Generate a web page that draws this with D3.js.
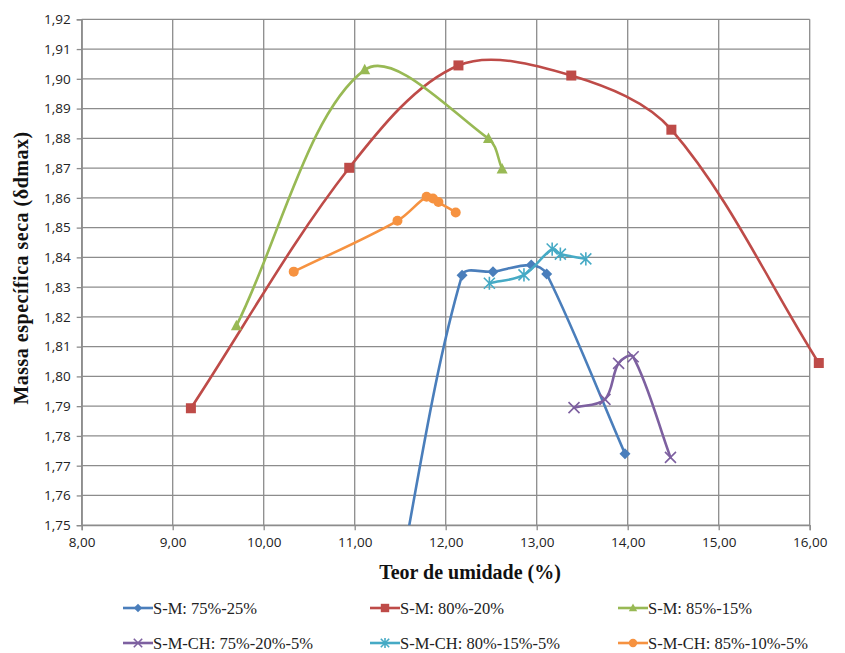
<!DOCTYPE html>
<html>
<head>
<meta charset="utf-8">
<script src="https://cdn.jsdelivr.net/npm/d3@7"></script>
<style>
  html, body { margin: 0; padding: 0; background: #fff; }
  svg { display: block; }
</style>
</head>
<body>
<svg id="chart" width="845" height="653"></svg>
<script>
// ---- Data ----
const xTicks = [8, 9, 10, 11, 12, 13, 14, 15, 16];
const yTicks = [1.75, 1.76, 1.77, 1.78, 1.79, 1.80, 1.81, 1.82, 1.83, 1.84, 1.85, 1.86, 1.87, 1.88, 1.89, 1.90, 1.91, 1.92];

const seriesNames = ["S-M: 75%-25%", "S-M: 80%-20%", "S-M: 85%-15%",
                     "S-M-CH: 75%-20%-5%", "S-M-CH: 80%-15%-5%", "S-M-CH: 85%-10%-5%"];

const sm75x = [11.40, 12.18, 12.52, 12.94, 13.11, 13.97];
const sm75y = [1.7177, 1.834, 1.8352, 1.8374, 1.8344, 1.774];

const sm80x = [9.20, 10.94, 12.14, 13.38, 14.48, 16.10];
const sm80y = [1.7893, 1.8701, 1.9045, 1.9011, 1.8829, 1.8045];

const sm85x = [9.70, 11.11, 12.47, 12.62];
const sm85y = [1.8170, 1.9030, 1.8799, 1.8697];

const smch75x = [13.41, 13.75, 13.90, 14.06, 14.47];
const smch75y = [1.7895, 1.7923, 1.8044, 1.8066, 1.7728];

const smch80x = [12.48, 12.86, 13.17, 13.26, 13.54];
const smch80y = [1.8313, 1.8341, 1.8428, 1.8411, 1.8395];

const smch85x = [10.33, 11.47, 11.79, 11.86, 11.92, 12.11];
const smch85y = [1.8352, 1.8523, 1.8604, 1.8598, 1.8586, 1.8551];

const colors = ["#4A7EBB", "#BE4B48", "#98B954", "#7D60A0", "#46AAC5", "#F69240"];
const markers = ["diamond", "square", "triangle", "x", "star", "circle"];

const seriesX = [sm75x, sm80x, sm85x, smch75x, smch80x, smch85x];
const seriesY = [sm75y, sm80y, sm85y, smch75y, smch80y, smch85y];

// ---- Layout ----
const svg = d3.select("#chart");
const pLeft = 81.7, pRight = 809.7, pTop = 19.3, pBottom = 525.2;

const x = d3.scaleLinear().domain([8, 16]).range([pLeft, pRight]);
const y = d3.scaleLinear().domain([1.75, 1.92]).range([pBottom, pTop]);

const gridColor = "#8C8C8C";
const fmt2 = d => d.toFixed(2).replace(".", ",");

// gridlines
svg.append("g").selectAll("line").data(yTicks).join("line")
  .attr("x1", pLeft).attr("x2", pRight)
  .attr("y1", d => y(d)).attr("y2", d => y(d))
  .attr("stroke", gridColor).attr("stroke-width", 1.3);
svg.append("g").selectAll("line").data(xTicks).join("line")
  .attr("y1", pTop).attr("y2", pBottom)
  .attr("x1", d => x(d)).attr("x2", d => x(d))
  .attr("stroke", gridColor).attr("stroke-width", 1.3);

// axes
const yAxis = d3.axisLeft(y).tickValues(yTicks).tickFormat(fmt2).tickSize(5).tickPadding(6);
const xAxis = d3.axisBottom(x).tickValues(xTicks).tickFormat(fmt2).tickSize(5).tickPadding(7);

const gy = svg.append("g").attr("transform", `translate(${pLeft},0)`).call(yAxis);
const gx = svg.append("g").attr("transform", `translate(0,${pBottom})`).call(xAxis);
[gy, gx].forEach(g => {
  g.select(".domain").attr("stroke", gridColor).attr("stroke-width", 1.3);
  g.selectAll(".tick line").attr("stroke", gridColor).attr("stroke-width", 1.3);
  g.selectAll("text").attr("fill", "#222").style("font-family", "'Liberation Sans Narrow', 'Open Sans', sans-serif")
    .style("font-size", "13.5px");
});

// axis titles
svg.append("text").attr("x", 470).attr("y", 579).attr("text-anchor", "middle")
  .style("font-family", "'Liberation Serif', 'Times New Roman', serif").style("font-weight", "bold")
  .style("font-size", "20px").attr("fill", "#111").text("Teor de umidade (%)");
svg.append("text").attr("transform", "translate(28,268) rotate(-90)").attr("text-anchor", "middle")
  .style("font-family", "'Liberation Serif', 'Times New Roman', serif").style("font-weight", "bold")
  .style("letter-spacing", "0.5px")
  .style("font-size", "20px").attr("fill", "#111").text("Massa específica seca (δdmax)");

// clip (bottom only)
svg.append("defs").append("clipPath").attr("id", "clip")
  .append("rect").attr("x", 0).attr("y", 0).attr("width", 845).attr("height", pBottom);

// Spreadsheet-style smoothing: Bezier with chord-length-weighted tangents
function SmoothCurve(context) { this._context = context; }
SmoothCurve.prototype = {
  areaStart() {}, areaEnd() {},
  lineStart() { this._pts = []; },
  point(px, py) { this._pts.push([+px, +py]); },
  lineEnd() {
    const p = this._pts, c = this._context, n = p.length;
    if (!n) return;
    c.moveTo(p[0][0], p[0][1]);
    const dist = (a, b) => Math.hypot(b[0] - a[0], b[1] - a[1]);
    for (let i = 0; i < n - 1; i++) {
      const P1 = p[i], P2 = p[i + 1];
      const P0 = i > 0 ? p[i - 1] : P1;
      const P3 = i + 2 < n ? p[i + 2] : P2;
      const d01 = dist(P0, P1), d12 = dist(P1, P2), d23 = dist(P2, P3);
      const k1 = d12 / (3 * (d01 + d12) || 1);
      const k2 = d12 / (3 * (d12 + d23) || 1);
      const c1 = [P1[0] + (P2[0] - P0[0]) * k1, P1[1] + (P2[1] - P0[1]) * k1];
      const c2 = [P2[0] - (P3[0] - P1[0]) * k2, P2[1] - (P3[1] - P1[1]) * k2];
      c.bezierCurveTo(c1[0], c1[1], c2[0], c2[1], P2[0], P2[1]);
    }
  }
};
const smoothCurve = context => new SmoothCurve(context);

const line = d3.line().x(d => x(d[0])).y(d => y(d[1])).curve(smoothCurve);

function drawMarker(g, type, cx, cy, color, s) {
  if (type === "diamond") {
    g.append("path").attr("d", `M${cx},${cy - s}L${cx + s},${cy}L${cx},${cy + s}L${cx - s},${cy}Z`).attr("fill", color);
  } else if (type === "square") {
    g.append("rect").attr("x", cx - s).attr("y", cy - s).attr("width", 2 * s).attr("height", 2 * s).attr("fill", color);
  } else if (type === "triangle") {
    g.append("path").attr("d", `M${cx},${cy - s * 1.1}L${cx + s},${cy + s * 0.8}L${cx - s},${cy + s * 0.8}Z`).attr("fill", color);
  } else if (type === "circle") {
    g.append("circle").attr("cx", cx).attr("cy", cy).attr("r", s).attr("fill", color);
  } else if (type === "x" || type === "star") {
    g.append("path").attr("d", `M${cx - s},${cy - s}L${cx + s},${cy + s}M${cx - s},${cy + s}L${cx + s},${cy - s}` +
      (type === "star" ? `M${cx},${cy - s * 1.2}L${cx},${cy + s * 1.2}` : ""))
      .attr("stroke", color).attr("stroke-width", 1.6).attr("fill", "none");
  }
}
const markerSize = [5.5, 5, 5.5, 5.5, 5.5, 5];

const plot = svg.append("g").attr("clip-path", "url(#clip)");
seriesX.forEach((xs, i) => {
  const pts = xs.map((v, j) => [v, seriesY[i][j]]);
  plot.append("path").datum(pts).attr("d", line)
    .attr("fill", "none").attr("stroke", colors[i]).attr("stroke-width", 2.6)
    .attr("stroke-linejoin", "round").attr("stroke-linecap", "round");
  const mg = plot.append("g");
  pts.forEach(p => {
    if (p[1] >= 1.75) drawMarker(mg, markers[i], x(p[0]), y(p[1]), colors[i], markerSize[i]);
  });
});

// legend
const legX = [123, 370, 618], legY = [608, 643];
seriesNames.forEach((name, i) => {
  const lx = legX[i % 3], ly = legY[Math.floor(i / 3)];
  const g = svg.append("g");
  g.append("line").attr("x1", lx).attr("x2", lx + 30).attr("y1", ly).attr("y2", ly)
    .attr("stroke", colors[i]).attr("stroke-width", 2.6);
  drawMarker(g, markers[i], lx + 15, ly, colors[i], 4.2);
  g.append("text").attr("x", lx + 30).attr("y", ly + 5.5)
    .style("font-family", "'Liberation Serif', 'Times New Roman', serif")
    .style("font-size", "16.5px").attr("fill", "#222").text(name);
});
</script>
</body>
</html>
